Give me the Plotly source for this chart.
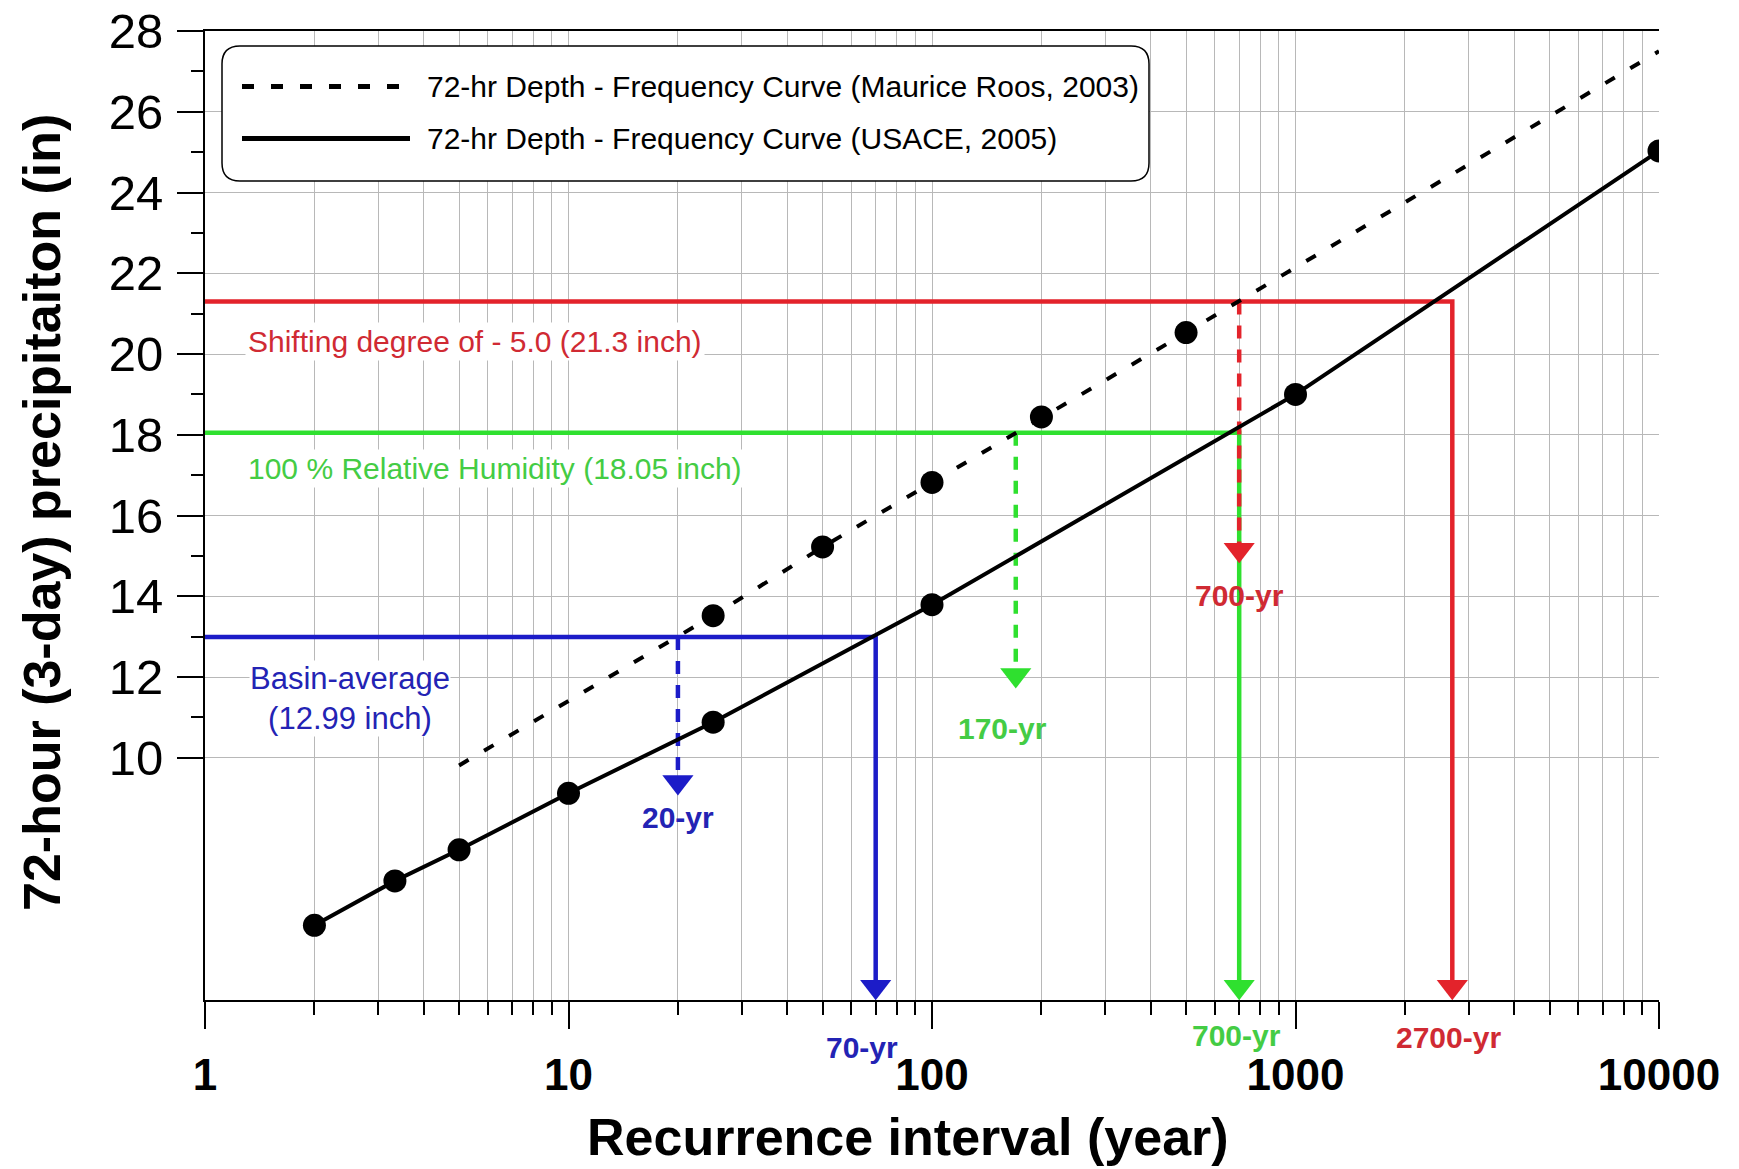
import math
import plotly.graph_objects as go

# ---------------- data ----------------
# USACE (2005) 72-hr depth-frequency curve
usace_x = [2, 3.33, 5, 10, 25, 100, 1000, 10000]
usace_y = [5.85, 6.95, 7.72, 9.12, 10.88, 13.79, 19.0, 25.03]

# Maurice Roos (2003) 72-hr depth-frequency curve (ends are unmarked)
roos_x = [5, 25, 50, 100, 200, 500, 10000]
roos_y = [9.81, 13.52, 15.22, 16.82, 18.44, 20.53, 27.5]
roos_marked = [False, True, True, True, True, True, False]

# threshold depths and the recurrence intervals they map to
thr_depth = [12.99, 18.05, 21.3]
thr_roos_period = [20, 170, 700]
thr_usace_period = [70, 700, 2700]
thr_dash_end = [9.4, 12.05, 15.15]
thr_text = ["Basin-average<br>(12.99 inch)",
            "100 % Relative Humidity (18.05 inch)",
            "Shifting degree of - 5.0 (21.3 inch)"]
thr_roos_label = ["20-yr", "170-yr", "700-yr"]
thr_usace_label = ["70-yr", "700-yr", "2700-yr"]

y_ticks = [10, 12, 14, 16, 18, 20, 22, 24, 26, 28]
y_minor = [11, 13, 15, 17, 19, 21, 23, 25, 27]
x_ticks = [1, 10, 100, 1000, 10000]
x_minor = [m * d for d in (1, 10, 100, 1000) for m in range(2, 10)]

# ---------------- styling ----------------
W, H = 1739, 1169
ML, MR, MT, MB = 205, 80, 31, 169
PW, PH = W - ML - MR, H - MT - MB
ARIAL = "Liberation Sans, Arial, sans-serif"
line_cols = ["#1c1cc8", "#2fe02f", "#e3232b"]
text_cols = ["#2323b4", "#44cc44", "#d02a33"]
GRID = "#b8b8b8"
YMIN, YMAX = 4, 28


def px2paper_x(px):
    return (px - ML) / PW


def px2paper_y(py):
    return (MT + PH - py) / PH


fig = go.Figure()

# coloured threshold lines (horizontal then solid vertical down to the axis)
for i in range(3):
    fig.add_trace(go.Scatter(
        x=[1, thr_usace_period[i], thr_usace_period[i]],
        y=[thr_depth[i], thr_depth[i], YMIN + 0.3],
        mode="lines", line=dict(color=line_cols[i], width=4.5),
        showlegend=False, hoverinfo="skip"))
# dashed verticals from the Roos curve
for i in range(3):
    fig.add_trace(go.Scatter(
        x=[thr_roos_period[i], thr_roos_period[i]],
        y=[thr_depth[i], thr_dash_end[i]],
        mode="lines", line=dict(color=line_cols[i], width=4.5, dash="13px,11px"),
        showlegend=False, hoverinfo="skip"))
# arrow heads
fig.add_trace(go.Scatter(
    x=thr_roos_period, y=thr_dash_end, mode="markers",
    marker=dict(symbol="triangle-down", size=27, color=line_cols, line=dict(width=0)),
    showlegend=False, hoverinfo="skip", cliponaxis=False))
fig.add_trace(go.Scatter(
    x=thr_usace_period, y=[YMIN + 0.33] * 3, mode="markers",
    marker=dict(symbol="triangle-down", size=27, color=line_cols, line=dict(width=0)),
    showlegend=False, hoverinfo="skip", cliponaxis=False))

# curves
fig.add_trace(go.Scatter(
    x=roos_x, y=roos_y, mode="lines",
    line=dict(color="black", width=4, dash="11px,18px"),
    name="72-hr Depth - Frequency Curve (Maurice Roos, 2003)", showlegend=False))
fig.add_trace(go.Scatter(
    x=[x for x, m in zip(roos_x, roos_marked) if m],
    y=[y for y, m in zip(roos_y, roos_marked) if m],
    mode="markers", marker=dict(color="black", size=23),
    showlegend=False))
fig.add_trace(go.Scatter(
    x=usace_x, y=usace_y, mode="lines+markers",
    line=dict(color="black", width=4), marker=dict(color="black", size=23),
    name="72-hr Depth - Frequency Curve (USACE, 2005)", showlegend=False))

annotations = []
# descriptive threshold texts (white background)
annotations.append(dict(x=math.log10(2.5), y=11.47, text=thr_text[0],
                        font=dict(family=ARIAL, size=31, color=text_cols[0]),
                        bgcolor="white", borderpad=0))
annotations.append(dict(x=math.log10(1.285), y=17.17, text=thr_text[1], xanchor="left",
                        font=dict(family=ARIAL, size=30, color=text_cols[1]),
                        bgcolor="white", borderpad=2))
annotations.append(dict(x=math.log10(1.29), y=20.3, text=thr_text[2], xanchor="left",
                        font=dict(family=ARIAL, size=30, color=text_cols[2]),
                        bgcolor="white", borderpad=2))
# period labels on the Roos side
roos_lab_pos = [(20, 8.52), (156, 10.72), (700, 14.01)]
for i in range(3):
    annotations.append(dict(x=math.log10(roos_lab_pos[i][0]), y=roos_lab_pos[i][1],
                            text=thr_roos_label[i],
                            font=dict(family=ARIAL, size=30, color=text_cols[i], weight="bold")))
# period labels under the axis
usace_lab_pos = [(64, 1047), (690, 1035), (2640, 1037)]
for i in range(3):
    annotations.append(dict(x=math.log10(usace_lab_pos[i][0]), yref="paper",
                            y=px2paper_y(usace_lab_pos[i][1]),
                            text=thr_usace_label[i],
                            font=dict(family=ARIAL, size=30, color=text_cols[i], weight="bold")))

# axis titles
annotations.append(dict(xref="paper", yref="paper", x=px2paper_x(908), y=px2paper_y(1137),
                        text="Recurrence interval (year)",
                        font=dict(family=ARIAL, size=52, color="black", weight="bold")))
annotations.append(dict(xref="paper", yref="paper", x=px2paper_x(42), y=px2paper_y(513),
                        text="72-hour (3-day) precipitaiton (in)", textangle=-90,
                        font=dict(family=ARIAL, size=52, color="black", weight="bold")))

# custom legend
leg_rows = [(86.5, "12px,17px", "72-hr Depth - Frequency Curve (Maurice Roos, 2003)"),
            (138.6, "solid", "72-hr Depth - Frequency Curve (USACE, 2005)")]
for py, dash, txt in leg_rows:
    annotations.append(dict(xref="paper", yref="paper", x=px2paper_x(425), y=px2paper_y(py),
                            xanchor="left", text=txt,
                            font=dict(family=ARIAL, size=30, color="black")))

for a in annotations:
    a.setdefault("showarrow", False)
    a.setdefault("xref", "x")
    a.setdefault("yref", "y")
    a.setdefault("xanchor", "center")
    a.setdefault("yanchor", "middle")

# rounded legend box
bx0, bx1 = px2paper_x(222), px2paper_x(1149)
by1, by0 = px2paper_y(46), px2paper_y(181)
rx, ry = 18 / PW, 18 / PH
box_path = (f"M {bx0+rx},{by1} L {bx1-rx},{by1} Q {bx1},{by1} {bx1},{by1-ry} "
            f"L {bx1},{by0+ry} Q {bx1},{by0} {bx1-rx},{by0} L {bx0+rx},{by0} "
            f"Q {bx0},{by0} {bx0},{by0+ry} L {bx0},{by1-ry} Q {bx0},{by1} {bx0+rx},{by1} Z")
shapes = [dict(type="path", xref="paper", yref="paper", path=box_path,
               fillcolor="white", line=dict(color="black", width=1.5), layer="above")]
for py, dash, txt in leg_rows:
    shapes.append(dict(type="line", xref="paper", yref="paper",
                       x0=px2paper_x(242), x1=px2paper_x(410),
                       y0=px2paper_y(py), y1=px2paper_y(py),
                       line=dict(color="black", width=5, dash=dash), layer="above"))

fig.update_layout(
    width=W, height=H,
    margin=dict(l=ML, r=MR, t=MT, b=MB, autoexpand=False),
    paper_bgcolor="white", plot_bgcolor="white",
    showlegend=False,
    annotations=annotations, shapes=shapes,
    xaxis=dict(type="log", range=[0, 4], automargin=False,
               tickmode="array", tickvals=x_ticks, ticktext=[str(v) for v in x_ticks],
               tickfont=dict(family=ARIAL, size=44, color="black", weight="bold"),
               ticks="outside", ticklen=27, tickwidth=2, tickcolor="black",
               ticklabelstandoff=8,
               showline=True, linecolor="black", linewidth=2, mirror=True,
               showgrid=True, gridcolor=GRID, gridwidth=1, zeroline=False,
               minor=dict(tickmode="array", tickvals=x_minor, ticks="outside",
                          ticklen=13, tickwidth=2, tickcolor="black",
                          showgrid=True, gridcolor=GRID, gridwidth=1)),
    yaxis=dict(range=[YMIN, YMAX], automargin=False,
               tickmode="array", tickvals=y_ticks, ticktext=[str(v) for v in y_ticks],
               tickfont=dict(family=ARIAL, size=49, color="black"),
               ticks="outside", ticklen=26, tickwidth=2, tickcolor="black",
               ticklabelstandoff=4,
               showline=True, linecolor="black", linewidth=2,
               showgrid=True, gridcolor=GRID, gridwidth=1, zeroline=False,
               minor=dict(tickmode="array", tickvals=y_minor, ticks="outside",
                          ticklen=12, tickwidth=2, tickcolor="black", showgrid=False)),
)

fig.write_html("out.html")
